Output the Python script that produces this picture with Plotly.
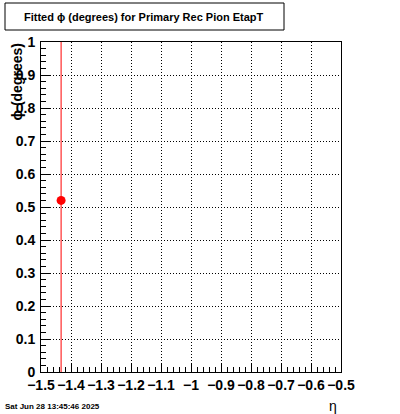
import plotly.graph_objects as go

eta = [-1.433]
phi = [0.52]
phi_err = [2.0]

title_text = "Fitted \u03d5 (degrees) for Primary Rec Pion EtapT"
x_title = "\u03b7"
y_title = "\u03d5 (degrees)"
date_text = "Sat Jun 28 13:45:46 2025"
x_ticks = [-1.5, -1.4, -1.3, -1.2, -1.1, -1.0, -0.9, -0.8, -0.7, -0.6, -0.5]
x_labels = ["\u22121.5", "\u22121.4", "\u22121.3", "\u22121.2", "\u22121.1", "\u22121",
            "\u22120.9", "\u22120.8", "\u22120.7", "\u22120.6", "\u22120.5"]
y_ticks = [0, 0.1, 0.2, 0.3, 0.4, 0.5, 0.6, 0.7, 0.8, 0.9, 1.0]
y_labels = ["0", "0.1", "0.2", "0.3", "0.4", "0.5", "0.6", "0.7", "0.8", "0.9", "1"]

L, R, T, B = 41, 59, 42, 42
W, H = 400, 414
PW, PH = W - L - R, H - T - B

def px(x):
    return (x - L) / PW

def py(y):
    return (H - B - y) / PH

fig = go.Figure()
fig.add_trace(go.Scatter(
    x=eta, y=phi, mode="markers",
    marker=dict(color="red", size=9, symbol="circle"),
    error_y=dict(type="data", array=phi_err, color="red", thickness=1, width=0),
    showlegend=False,
))

axis_common = dict(
    showline=True, linecolor="black", linewidth=1, mirror=True,
    ticks="inside", ticklen=9, tickcolor="black", tickwidth=1,
    showgrid=True, gridcolor="black", griddash="1px,2px", gridwidth=1,
    zeroline=False, automargin=False, tickangle=0,
    tickfont=dict(family="Liberation Sans", size=14, color="black", weight="bold"),
)

fig.update_xaxes(
    range=[-1.5, -0.5],
    minor=dict(ticks="inside", ticklen=5, dtick=0.02, tick0=-1.5, tickcolor="black", showgrid=False),
    tickvals=x_ticks, ticktext=x_labels,
    ticklabelstandoff=0,
    **axis_common,
)
fig.update_yaxes(
    range=[0, 1],
    minor=dict(ticks="inside", ticklen=5, dtick=0.02, tick0=0, tickcolor="black", showgrid=False),
    tickvals=y_ticks, ticktext=y_labels,
    ticklabelstandoff=2,
    **axis_common,
)

fig.add_shape(type="rect", xref="paper", yref="paper",
              x0=px(5), x1=px(284), y0=py(30), y1=py(3),
              line=dict(color="black", width=1), fillcolor="white", layer="above")

fig.add_annotation(text=title_text, xref="paper", yref="paper",
                   x=px(144), y=py(17), xanchor="center", yanchor="middle", showarrow=False,
                   font=dict(family="Liberation Sans", size=11, color="black", weight="bold"))
fig.add_annotation(text=y_title, xref="paper", yref="paper",
                   x=px(16), y=1.0, xanchor="center", yanchor="top", textangle=-90,
                   showarrow=False,
                   font=dict(family="Liberation Sans", size=14, color="black", weight="bold"))
fig.add_annotation(text=date_text, xref="paper", yref="paper",
                   x=px(3), y=py(406), xanchor="left", yanchor="middle", showarrow=False,
                   font=dict(family="Liberation Sans", size=8, color="black", weight="bold"))
fig.add_annotation(text=x_title, xref="paper", yref="paper",
                   x=px(339), y=py(406), xanchor="right", yanchor="middle", showarrow=False,
                   font=dict(family="Liberation Sans", size=14, color="black"))

fig.update_layout(
    width=W, height=H,
    margin=dict(l=L, r=R, t=T, b=B),
    paper_bgcolor="white", plot_bgcolor="white",
)

fig.write_html("out.html", config={"displayModeBar": False},
               post_script="document.body.style.margin='0';document.body.style.padding='0';")
